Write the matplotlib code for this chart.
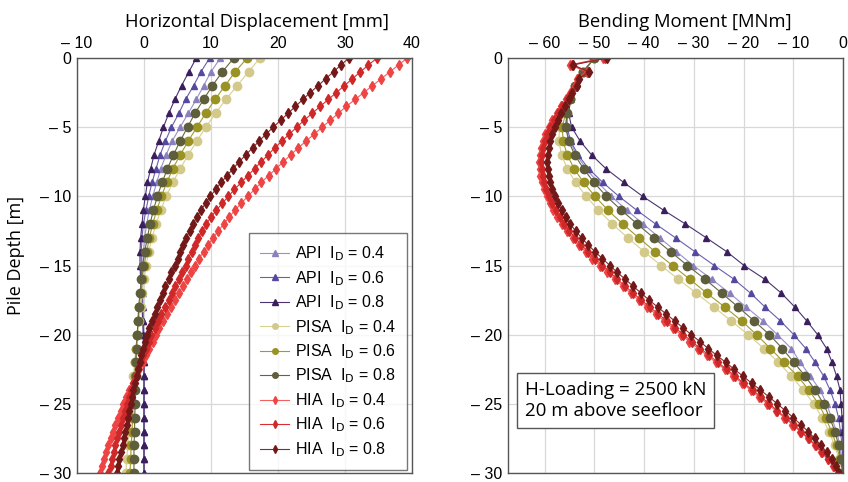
import matplotlib
matplotlib.use("Agg")
import matplotlib.pyplot as plt
import numpy as np

plt.rcParams['font.family'] = ['Liberation Sans', 'DejaVu Sans']

# ---------------- data ----------------
depth_1m = [-float(i) for i in range(31)]          # API / PISA output depths
depth_05m = [-0.5 * i for i in range(61)]          # HIA output depths

# Horizontal displacement [mm]
disp_api_04 = [11.4, 10.0, 8.9, 7.8, 6.6, 5.4, 4.2, 3.3, 2.5, 1.9, 1.3, 0.8, 0.4, 0.1, -0.1, -0.2,
               -0.2, -0.2, -0.1, -0.1, 0.0, 0.0, 0.0, 0.0, 0.0, 0.0, 0.0, 0.0, 0.0, 0.0, 0.0]
disp_api_06 = [9.8, 8.5, 7.4, 6.2, 5.2, 4.1, 3.2, 2.4, 1.8, 1.2, 0.7, 0.3, -0.1, -0.3, -0.4, -0.4,
               -0.4, -0.3, -0.2, -0.1, -0.1, 0.0, 0.0, 0.0, 0.0, 0.0, 0.0, 0.0, 0.0, 0.0, 0.0]
disp_api_08 = [7.8, 6.7, 5.6, 4.6, 3.7, 2.9, 2.2, 1.5, 1.0, 0.5, 0.2, -0.1, -0.3, -0.5, -0.6, -0.6,
               -0.5, -0.4, -0.3, -0.2, -0.1, -0.1, 0.0, 0.0, 0.0, 0.0, 0.0, 0.0, 0.0, 0.0, 0.0]
disp_pisa_04 = [17.3, 15.6, 13.9, 12.2, 10.7, 9.2, 7.9, 6.6, 5.4, 4.3, 3.3, 2.5, 1.8, 1.2, 0.7, 0.3,
                0.0, -0.3, -0.5, -0.8, -1.0, -1.2, -1.4, -1.6, -1.8, -2.0, -2.1, -2.3, -2.4, -2.6, -2.7]
disp_pisa_06 = [15.4, 13.6, 12.1, 10.6, 9.2, 7.9, 6.6, 5.4, 4.3, 3.4, 2.6, 1.9, 1.3, 0.8, 0.4, 0.0,
                -0.3, -0.5, -0.7, -0.9, -1.0, -1.2, -1.3, -1.4, -1.5, -1.6, -1.7, -1.8, -1.9, -2.0, -2.1]
disp_pisa_08 = [13.4, 11.7, 10.2, 8.9, 7.6, 6.5, 5.4, 4.4, 3.5, 2.7, 2.0, 1.4, 0.9, 0.5, 0.1, -0.2,
                -0.4, -0.6, -0.8, -0.9, -1.0, -1.1, -1.2, -1.2, -1.3, -1.3, -1.4, -1.4, -1.5, -1.5, -1.5]
disp_hia_04 = [39.3, 38.0, 36.7, 35.4, 34.1, 32.8, 31.5, 30.2, 29.0, 27.8, 26.6, 25.4, 24.2, 23.0,
               21.9, 20.8, 19.7, 18.6, 17.5, 16.5, 15.5, 14.5, 13.6, 12.7, 11.9, 11.1, 10.3, 9.6,
               8.9, 8.2, 7.6, 7.0, 6.4, 5.8, 5.2, 4.6, 4.0, 3.4, 2.9, 2.3, 1.8, 1.3, 0.8, 0.3,
               -0.2, -0.7, -1.2, -1.7, -2.2, -2.7, -3.1, -3.5, -3.9, -4.3, -4.6, -5.0, -5.3, -5.7,
               -6.0, -6.3, -6.6]
disp_hia_06 = [34.8, 33.5, 32.3, 31.1, 29.9, 28.7, 27.5, 26.3, 25.1, 23.9, 22.8, 21.7, 20.6, 19.5,
               18.5, 17.5, 16.5, 15.5, 14.5, 13.5, 12.6, 11.7, 10.8, 10.0, 9.3, 8.7, 8.1, 7.6,
               7.1, 6.6, 6.2, 5.7, 5.2, 4.7, 4.2, 3.7, 3.2, 2.6, 2.1, 1.6, 1.1, 0.7, 0.3, -0.1,
               -0.5, -0.9, -1.2, -1.6, -1.9, -2.3, -2.6, -2.9, -3.2, -3.5, -3.8, -4.0, -4.3, -4.5,
               -4.8, -5.0, -5.3]
disp_hia_08 = [30.6, 29.4, 28.3, 27.1, 26.0, 24.8, 23.7, 22.6, 21.5, 20.4, 19.3, 18.2, 17.2, 16.2,
               15.2, 14.2, 13.3, 12.4, 11.5, 10.7, 9.9, 9.2, 8.5, 7.9, 7.3, 6.8, 6.3, 5.8,
               5.4, 5.0, 4.6, 4.1, 3.7, 3.2, 2.8, 2.4, 2.0, 1.6, 1.2, 0.8, 0.5, 0.2, -0.1, -0.4,
               -0.6, -0.9, -1.1, -1.4, -1.6, -1.8, -2.0, -2.2, -2.4, -2.6, -2.8, -3.0, -3.2, -3.5,
               -3.7, -3.9, -4.1]

# Bending moment [MNm]
mom_api_04 = [-50.0, -52.3, -53.9, -54.9, -55.6, -55.8, -55.0, -53.6, -51.7, -49.3, -46.6, -43.5,
              -40.2, -36.9, -33.5, -30.1, -26.4, -22.8, -19.5, -16.1, -13.2, -10.4, -8.6, -6.6,
              -4.6, -3.3, -2.3, -1.3, -0.6, -0.3, 0.0]
mom_api_06 = [-50.0, -52.3, -53.9, -55.0, -55.5, -55.5, -54.8, -53.3, -51.2, -48.3, -45.1, -41.5,
              -37.7, -33.7, -29.8, -25.9, -21.9, -18.6, -15.7, -12.6, -9.9, -7.5, -5.6, -3.9,
              -2.6, -1.6, -0.9, -0.5, -0.2, -0.1, 0.0]
mom_api_08 = [-50.0, -52.3, -53.9, -54.8, -55.2, -54.6, -52.9, -50.6, -47.7, -44.1, -40.3, -36.1,
              -31.7, -27.5, -23.4, -19.9, -15.7, -12.4, -9.7, -7.3, -5.1, -3.3, -2.2, -1.3,
              -0.6, -0.4, -0.2, -0.1, 0.0, 0.0, 0.0]
mom_pisa_04 = [-50.0, -52.3, -53.9, -55.0, -56.2, -57.0, -57.2, -56.6, -55.5, -53.8, -51.7, -49.2,
               -46.4, -43.3, -40.0, -36.6, -33.1, -29.5, -26.0, -22.5, -19.1, -15.9, -13.0, -10.4,
               -8.0, -5.9, -4.2, -2.8, -1.7, -0.8, 0.0]
mom_pisa_06 = [-50.0, -52.3, -53.9, -55.0, -55.8, -56.5, -56.3, -55.5, -54.1, -52.2, -49.9, -47.3,
               -44.3, -41.1, -37.8, -34.3, -30.8, -27.4, -23.8, -20.4, -17.4, -14.6, -11.9, -9.1,
               -6.9, -4.9, -3.5, -2.3, -1.3, -0.6, 0.0]
mom_pisa_08 = [-50.0, -52.3, -53.9, -54.9, -55.5, -55.8, -55.2, -54.0, -52.2, -50.1, -47.6, -44.6,
               -41.4, -38.1, -34.7, -31.3, -27.7, -24.4, -21.1, -17.9, -14.8, -12.2, -9.9, -7.6,
               -5.6, -3.9, -2.7, -1.6, -0.9, -0.5, 0.0]
mom_hia_04 = [-48.3, -54.9, -51.6, -53.5, -53.9, -54.9, -55.7, -56.7, -57.6, -58.5, -59.2, -59.9,
              -60.4, -60.8, -61.0, -61.1, -61.0, -60.9, -60.6, -60.2, -59.6, -59.0, -58.3, -57.5,
              -56.6, -55.6, -54.4, -53.2, -51.8, -50.4, -48.9, -47.4, -45.9, -44.3, -42.7, -41.1,
              -39.4, -37.7, -36.0, -34.3, -32.6, -30.9, -29.1, -27.4, -25.6, -23.8, -22.1, -20.3,
              -18.6, -16.9, -15.2, -13.5, -11.8, -10.2, -8.6, -7.1, -5.7, -4.4, -3.1, -2.0, -1.0]
mom_hia_06 = [-47.8, -54.6, -51.3, -53.4, -53.8, -54.8, -55.6, -56.5, -57.4, -58.2, -58.9, -59.5,
              -60.0, -60.4, -60.6, -60.7, -60.6, -60.4, -60.1, -59.7, -59.1, -58.5, -57.8, -57.0,
              -56.1, -55.1, -53.9, -52.7, -51.3, -49.9, -48.4, -46.9, -45.4, -43.8, -42.2, -40.6,
              -38.9, -37.2, -35.5, -33.8, -32.1, -30.4, -28.7, -26.9, -25.2, -23.4, -21.7, -20.0,
              -18.2, -16.5, -14.8, -13.2, -11.5, -9.9, -8.4, -6.9, -5.5, -4.2, -3.0, -1.9, -1.0]
mom_hia_08 = [-47.4, -54.3, -51.1, -53.2, -53.6, -54.5, -55.2, -56.0, -56.7, -57.4, -58.0, -58.5,
              -58.9, -59.2, -59.4, -59.5, -59.4, -59.2, -58.9, -58.5, -57.9, -57.3, -56.6, -55.8,
              -54.9, -53.8, -52.6, -51.3, -49.9, -48.4, -46.9, -45.4, -43.8, -42.2, -40.6, -39.0,
              -37.3, -35.6, -33.9, -32.2, -30.5, -28.8, -27.1, -25.4, -23.6, -21.9, -20.1, -18.4,
              -16.6, -14.9, -13.2, -11.6, -10.0, -8.5, -7.0, -5.7, -4.4, -3.3, -2.3, -1.5, -0.8]

series_labels = [r'API  I$_{\rm D}$ = 0.4', r'API  I$_{\rm D}$ = 0.6', r'API  I$_{\rm D}$ = 0.8',
                 r'PISA  I$_{\rm D}$ = 0.4', r'PISA  I$_{\rm D}$ = 0.6', r'PISA  I$_{\rm D}$ = 0.8',
                 r'HIA  I$_{\rm D}$ = 0.4', r'HIA  I$_{\rm D}$ = 0.6', r'HIA  I$_{\rm D}$ = 0.8']

disp_ticks = [-10, 0, 10, 20, 30, 40]
mom_ticks = [-60, -50, -40, -30, -20, -10, 0]
depth_ticks = [0, -5, -10, -15, -20, -25, -30]

# ---------------- styles ----------------
styles = [
    dict(color='#9a90cc', marker='^', ms=4.5, mec='#8a80c0', mfc='#8a80c0'),
    dict(color='#6a5fb0', marker='^', ms=4.5, mec='#5548a0', mfc='#5548a0'),
    dict(color='#4a3370', marker='^', ms=4.5, mec='#3a1f5c', mfc='#3a1f5c'),
    dict(color='#d8d090', marker='o', ms=6, mec='#d2c98a', mfc='#d2c98a'),
    dict(color='#a09a30', marker='o', ms=6, mec='#9a9222', mfc='#9a9222'),
    dict(color='#66663e', marker='o', ms=6, mec='#5e5e3c', mfc='#5e5e3c'),
    dict(color='#f26060', marker='d', ms=5, mec='#ee4444', mfc='#ee4444'),
    dict(color='#d83030', marker='d', ms=5, mec='#d02828', mfc='#d02828'),
    dict(color='#8a2a2a', marker='d', ms=5, mec='#731818', mfc='#731818'),
]

def dash_label(v):
    return f'\u2013 {abs(v)}' if v < 0 else f'{v}'

fig = plt.figure(figsize=(8.48, 4.82), dpi=100)
ax_bottom = 9 / 482
ax_height = 415 / 482
ax1 = fig.add_axes([77 / 848, ax_bottom, 335 / 848, ax_height])
ax2 = fig.add_axes([508 / 848, ax_bottom, 335 / 848, ax_height])

disp_series = [disp_api_04, disp_api_06, disp_api_08, disp_pisa_04, disp_pisa_06, disp_pisa_08,
               disp_hia_04, disp_hia_06, disp_hia_08]
mom_series = [mom_api_04, mom_api_06, mom_api_08, mom_pisa_04, mom_pisa_06, mom_pisa_08,
              mom_hia_04, mom_hia_06, mom_hia_08]

for i, (ds, ms_, st, lab) in enumerate(zip(disp_series, mom_series, styles, series_labels)):
    dep = depth_05m if i >= 6 else depth_1m
    ax1.plot(ds, dep, lw=0.8, label=lab, **st)
    ax2.plot(ms_, dep, lw=0.8, **st)

for ax, xt, xl, title, tx in [(ax1, disp_ticks, (-10, 40), 'Horizontal Displacement [mm]', 0.537),
                              (ax2, mom_ticks, (-67.4, 0), 'Bending Moment [MNm]', 0.528)]:
    ax.set_xlim(*xl)
    ax.set_ylim(-30, 0)
    ax.xaxis.tick_top()
    ax.set_xticks(xt)
    ax.set_xticklabels([dash_label(v) for v in xt], fontsize=11.5)
    ax.set_yticks(depth_ticks)
    ax.set_yticklabels([dash_label(v) for v in depth_ticks], fontsize=11.5)
    ax.tick_params(axis='y', length=0, pad=4)
    ax.tick_params(axis='x', length=0, pad=5)
    ax.grid(True, color='#d8d8d8', lw=0.9)
    ax.set_axisbelow(True)
    for sp in ax.spines.values():
        sp.set_color('#555555')
        sp.set_linewidth(1.0)
    ax.set_title(title, fontsize=13.3, family='Open Sans', pad=22, x=tx)

ax1.set_ylabel('Pile Depth [m]', fontsize=13, family='Open Sans')
ax1.yaxis.set_label_coords(-0.155, 0.525)

leg = ax1.legend(loc='lower right', fontsize=11.5, frameon=True, fancybox=False,
                 edgecolor='#555555', handlelength=1.8, labelspacing=0.36,
                 borderpad=0.7, handletextpad=0.35, borderaxespad=0,
                 bbox_to_anchor=(1 - 5 / 335, 3 / 415))
leg.get_frame().set_linewidth(1.0)
for h in leg.legend_handles:
    h.set_markersize(4)

ax2.text(0.05, 0.175, 'H-Loading = 2500 kN\n20 m above seefloor', transform=ax2.transAxes,
         fontsize=13.5, family='Open Sans', va='center', ha='left', linespacing=1.2,
         bbox=dict(boxstyle='square,pad=0.42', fc='white', ec='#555555', lw=1.0))

fig.savefig('out.png', dpi=100)
